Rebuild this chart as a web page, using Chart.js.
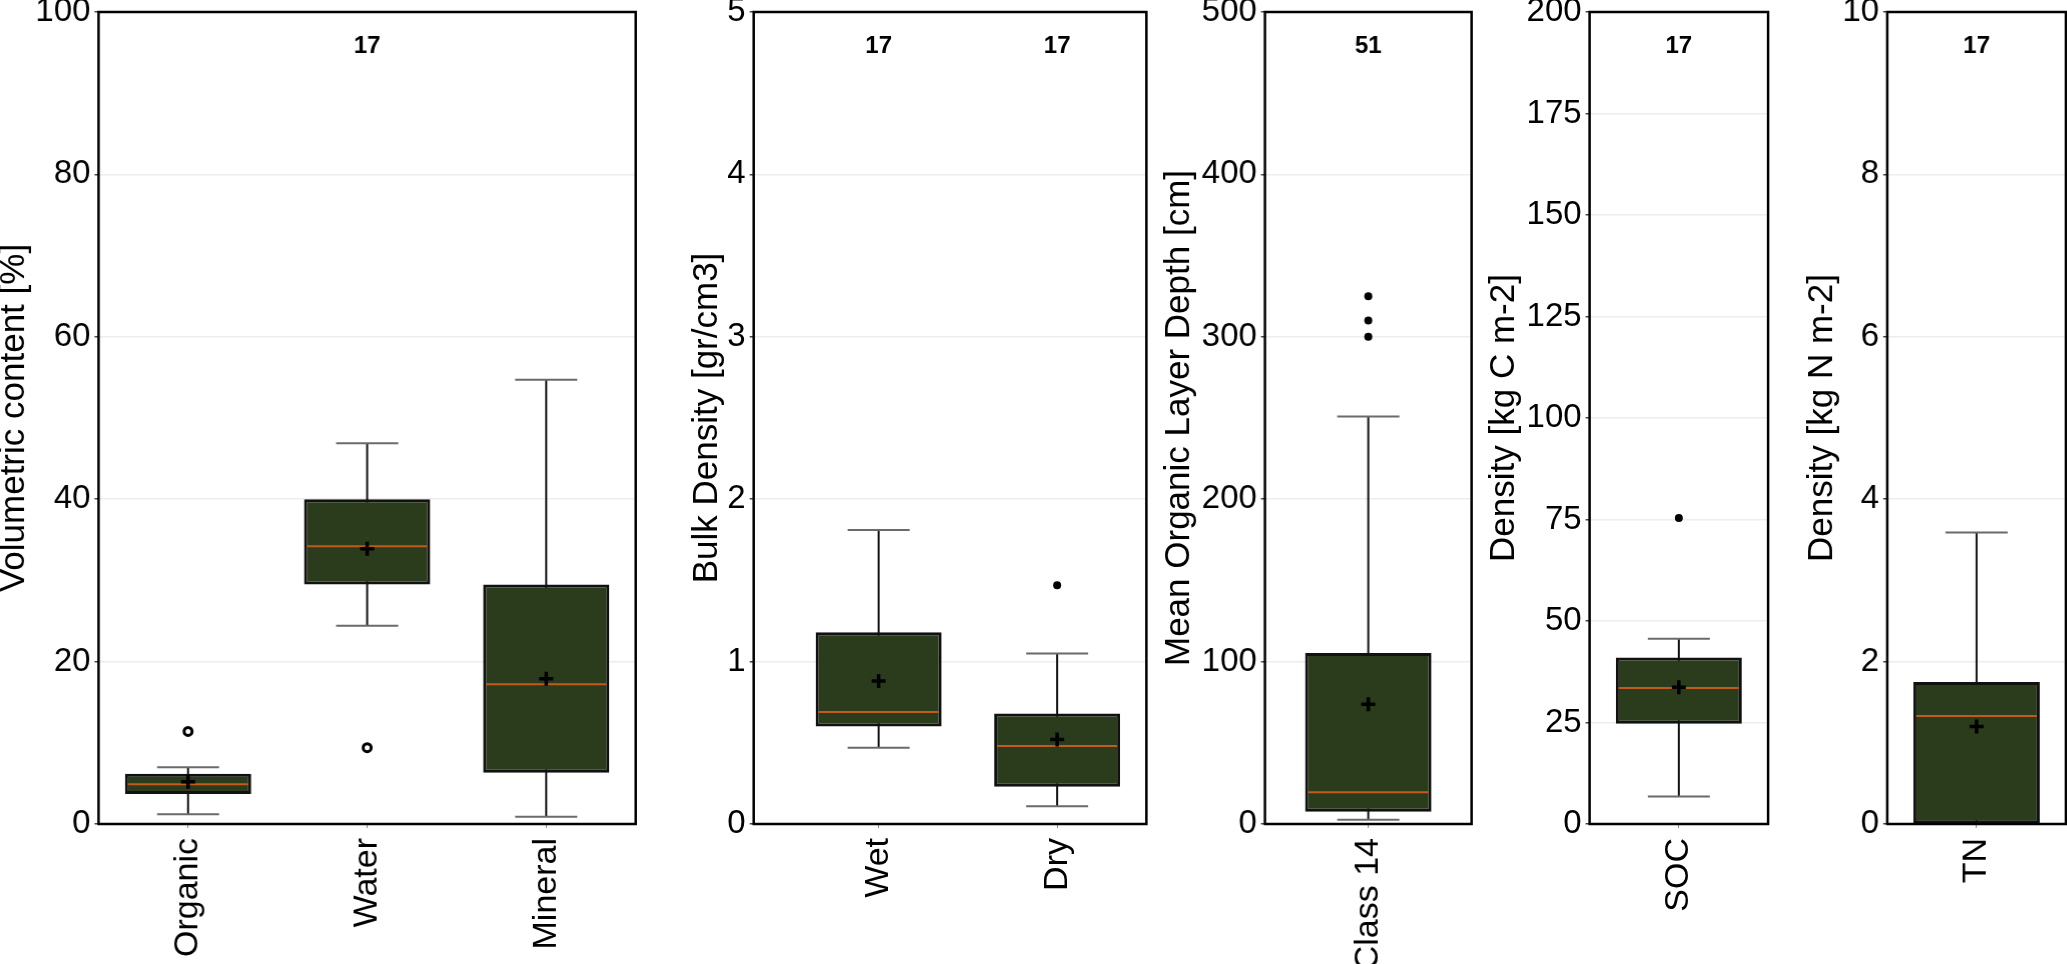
<!DOCTYPE html>
<html>
<head>
<meta charset="utf-8">
<script src="https://cdn.jsdelivr.net/npm/chart.js@4.4.1/dist/chart.umd.min.js"></script>
<style>
  html, body { margin: 0; padding: 0; background: #fff; overflow: hidden; }
  #wrap { position: relative; width: 2067px; height: 964px; overflow: hidden; }
  .panel { position: absolute; top: 0; height: 964px; }
</style>
</head>
<body>
<div id="wrap"></div>
<script>
// volumetric content [%]
var volCats = ['Organic', 'Water', 'Mineral'];
var volLow  = [1.2, 24.4, 0.9];
var volQ1   = [3.7, 29.5, 6.3];
var volMed  = [4.9, 34.2, 17.2];
var volQ3   = [6.2, 40.0, 29.5];
var volHigh = [7.0, 46.9, 54.7];
var volMean = [5.2, 33.9, 17.9];
var volOut  = [[11.4], [9.4], []];
var volN    = ['', '17', ''];
var volTicks = [0, 20, 40, 60, 80, 100];

// bulk density [gr/cm3]
var bdCats = ['Wet', 'Dry'];
var bdLow  = [0.47, 0.11];
var bdQ1   = [0.60, 0.23];
var bdMed  = [0.69, 0.48];
var bdQ3   = [1.18, 0.68];
var bdHigh = [1.81, 1.05];
var bdMean = [0.88, 0.52];
var bdOut  = [[], [1.47]];
var bdN    = ['17', '17'];
var bdTicks = [0, 1, 2, 3, 4, 5];

// mean organic layer depth [cm]
var depthCats = ['Class 14'];
var depthLow  = [2.6];
var depthQ1   = [7.6];
var depthMed  = [19.5];
var depthQ3   = [105.3];
var depthHigh = [251];
var depthMean = [73.7];
var depthOut  = [[300, 310, 325]];
var depthN    = ['51'];
var depthTicks = [0, 100, 200, 300, 400, 500];

// SOC density [kg C m-2]
var socCats = ['SOC'];
var socLow  = [6.8];
var socQ1   = [24.7];
var socMed  = [33.5];
var socQ3   = [41.0];
var socHigh = [45.6];
var socMean = [33.7];
var socOut  = [[75.4]];
var socN    = ['17'];
var socTicks = [0, 25, 50, 75, 100, 125, 150, 175, 200];

// TN density [kg N m-2]
var tnCats = ['TN'];
var tnLow  = [0];
var tnQ1   = [0];
var tnMed  = [1.33];
var tnQ3   = [1.75];
var tnHigh = [3.59];
var tnMean = [1.2];
var tnOut  = [[]];
var tnN    = ['17'];
var tnTicks = [0, 2, 4, 6, 8, 10];

var BOX_FILL = '#2b3c1c';
var MEDIAN_COLOR = '#c25a1c';
var FONT = "'Liberation Sans', Arial, sans-serif";

Chart.defaults.font.family = FONT;
Chart.defaults.color = '#000';

var panels = [
  { title: 'Volumetric content [%]', cats: volCats, low: volLow, q1: volQ1, med: volMed, q3: volQ3, high: volHigh,
    mean: volMean, out: volOut, n: volN, ticks: volTicks, ring: true,
    left: -6.7, yWidth: 105.4, right: 635, xMin: -0.5, xMax: 2.5 },
  { title: 'Bulk Density [gr/cm3]', cats: bdCats, low: bdLow, q1: bdQ1, med: bdMed, q3: bdQ3, high: bdHigh,
    mean: bdMean, out: bdOut, n: bdN, ticks: bdTicks,
    left: 685.6, yWidth: 67.7, right: 1146, xMin: -0.7, xMax: 1.5 },
  { title: 'Mean Organic Layer Depth [cm]', cats: depthCats, low: depthLow, q1: depthQ1, med: depthMed, q3: depthQ3, high: depthHigh,
    mean: depthMean, out: depthOut, n: depthN, ticks: depthTicks,
    left: 1158.4, yWidth: 106.6, right: 1471, xMin: -0.5, xMax: 0.5 },
  { title: 'Density [kg C m-2]', cats: socCats, low: socLow, q1: socQ1, med: socMed, q3: socQ3, high: socHigh,
    mean: socMean, out: socOut, n: socN, ticks: socTicks,
    left: 1482.9, yWidth: 106.6, right: 1768, xMin: -0.5, xMax: 0.5 },
  { title: 'Density [kg N m-2]', cats: tnCats, low: tnLow, q1: tnQ1, med: tnMed, q3: tnQ3, high: tnHigh,
    mean: tnMean, out: tnOut, n: tnN, ticks: tnTicks,
    left: 1801.1, yWidth: 85.9, right: 2065, xMin: -0.5, xMax: 0.5 }
];

// black frame round the plot area, drawn over the boxes
var framePlugin = {
  id: 'frame',
  afterDatasetsDraw: function (chart) {
    var a = chart.chartArea;
    var ctx = chart.ctx;
    ctx.save();
    ctx.strokeStyle = '#000';
    ctx.lineWidth = 2.5;
    ctx.strokeRect(a.left, a.top, a.right - a.left, a.bottom - a.top);
    ctx.restore();
  }
};

// sample counts written above the boxes
var countPlugin = {
  id: 'counts',
  afterDraw: function (chart) {
    var n = chart.options.plugins.counts.labels;
    var xs = chart.scales.x;
    var ctx = chart.ctx;
    ctx.save();
    ctx.font = 'bold 24px ' + FONT;
    ctx.fillStyle = '#000';
    ctx.textAlign = 'center';
    ctx.textBaseline = 'middle';
    n.forEach(function (t, i) {
      if (t) ctx.fillText(t, xs.getPixelForValue(i), chart.chartArea.top + 34);
    });
    ctx.restore();
  }
};

function points(arr) {
  return arr.map(function (v, i) { return { x: i, y: v }; });
}

function buildPanel(p) {
  var div = document.createElement('div');
  div.className = 'panel';
  div.style.left = p.left + 'px';
  div.style.width = (p.right - p.left + 4) + 'px';
  var canvas = document.createElement('canvas');
  div.appendChild(canvas);
  document.getElementById('wrap').appendChild(div);

  var whiskers = p.cats.map(function (c, i) { return { x: i, y: [p.low[i], p.high[i]] }; });
  var boxes = p.cats.map(function (c, i) { return { x: i, y: [p.q1[i], p.q3[i]] }; });
  var caps = points(p.low).concat(points(p.high));
  var outliers = [];
  p.out.forEach(function (list, i) {
    list.forEach(function (v) { outliers.push({ x: i, y: v }); });
  });

  new Chart(canvas, {
    type: 'bar',
    data: {
      datasets: [
        { type: 'bar', data: whiskers, backgroundColor: '#111', borderWidth: 0,
          grouped: false, maxBarThickness: 2, order: 6 },
        { type: 'scatter', data: caps, pointStyle: 'line', pointRadius: 31,
          borderColor: '#6a6a6a', borderWidth: 2, order: 5 },
        { type: 'bar', data: boxes, backgroundColor: BOX_FILL, borderColor: '#111', borderWidth: 3,
          borderSkipped: false, grouped: false, maxBarThickness: 126, order: 4 },
        { type: 'scatter', data: points(p.med), pointStyle: 'line', pointRadius: 60,
          borderColor: MEDIAN_COLOR, borderWidth: 2, order: 3 },
        { type: 'scatter', data: points(p.mean), pointStyle: 'cross', pointRadius: 7,
          borderColor: '#000', borderWidth: 3.5, order: 2 },
        { type: 'scatter', data: outliers, pointStyle: 'circle', pointRadius: 4,
          backgroundColor: p.ring ? '#fff' : '#000',
          borderColor: '#000', borderWidth: p.ring ? 3 : 0, order: 1 }
      ]
    },
    options: {
      responsive: true,
      maintainAspectRatio: false,
      animation: false,
      events: [],
      layout: { autoPadding: false, padding: { top: 12, right: 4, bottom: 0, left: 0 } },
      plugins: {
        legend: { display: false },
        tooltip: { enabled: false },
        counts: { labels: p.n }
      },
      scales: {
        x: {
          type: 'linear',
          min: p.xMin,
          max: p.xMax,
          offset: false,
          afterBuildTicks: function (s) {
            s.ticks = p.cats.map(function (c, i) { return { value: i }; });
          },
          afterFit: function (s) {
            s.height = 140;
            s.paddingLeft = 0;
            s.paddingRight = 0;
          },
          grid: { display: true, drawOnChartArea: false, offset: false, tickLength: 4, tickColor: '#888' },
          border: { display: false },
          ticks: {
            color: '#000',
            font: { size: 34 },
            padding: 10,
            minRotation: 90,
            maxRotation: 90,
            autoSkip: false,
            callback: function (v) { return p.cats[v]; }
          }
        },
        y: {
          min: p.ticks[0],
          max: p.ticks[p.ticks.length - 1],
          afterBuildTicks: function (s) {
            s.ticks = p.ticks.map(function (v) { return { value: v }; });
          },
          afterFit: function (s) {
            s.width = p.yWidth;
            s.paddingTop = 0;
            s.paddingBottom = 0;
          },
          grid: { color: '#ededed', lineWidth: 1.5, tickLength: 4, tickColor: '#444' },
          border: { display: false },
          ticks: { color: '#000', font: { size: 33 }, padding: 4 },
          title: { display: true, text: p.title, color: '#000', font: { size: 35 }, padding: 0 }
        }
      }
    },
    plugins: [framePlugin, countPlugin]
  });
}

panels.forEach(buildPanel);
</script>
</body>
</html>
